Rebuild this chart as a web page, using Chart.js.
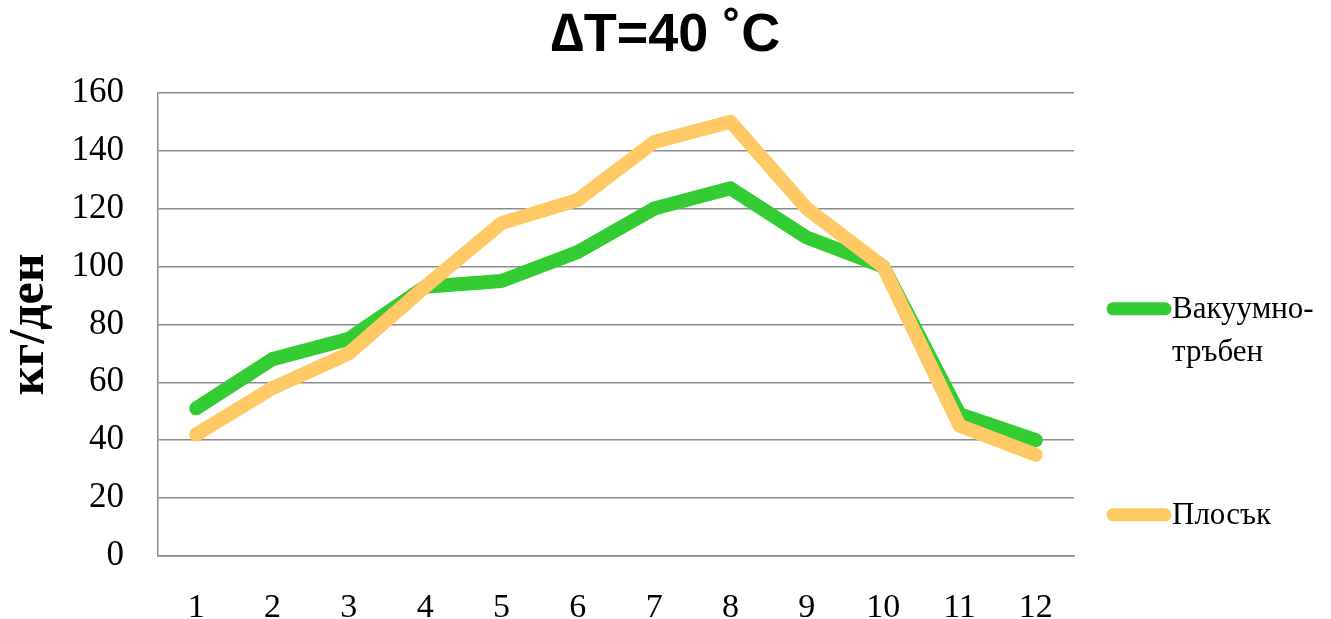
<!DOCTYPE html>
<html>
<head>
<meta charset="utf-8">
<script src="https://cdn.jsdelivr.net/npm/chart.js@4/dist/chart.umd.min.js"></script>
<style>
  html, body { margin: 0; padding: 0; background: #fff; }
  #wrap { width: 1331px; height: 619px; position: relative; }
</style>
</head>
<body>
<div id="wrap"><canvas id="c"></canvas></div>
<script>
const chartTitle = '∆T=40 ˚C';
const yAxisTitle = 'кг/ден';
const months = ['1','2','3','4','5','6','7','8','9','10','11','12'];
const vacuumTube = [51, 68, 75, 93, 95, 105, 120, 127, 110, 100, 49, 40];
const flatPlate  = [42, 58, 70, 93, 115, 123, 143, 150, 120, 100, 45, 35];
const seriesLabelLines = [['Вакуумно-', 'тръбен'], ['Плосък']];
const seriesColors = ['#33CC33', '#FFC965'];

const serifFont = "'Liberation Serif', 'DejaVu Serif', serif";

// custom right-side legend box placed through Chart.js layout system
const legendBoxPlugin = {
  id: 'rightLegendBox',
  beforeInit(chart) {
    const box = {
      position: 'right',
      weight: 0,
      fullSize: false,
      options: {},
      isHorizontal() { return false; },
      update(maxW, maxH) { this.width = 257; this.height = maxH; },
      draw() {
        const ctx = chart.ctx;
        const area = chart.chartArea;
        const rowsY = [area.top + 216, area.top + 422];
        ctx.save();
        chart.data.datasets.forEach((ds, i) => {
          const lines = ds.labelLines;
          const y = rowsY[i];
          ctx.strokeStyle = ds.borderColor;
          ctx.lineWidth = 13;
          ctx.lineCap = 'round';
          ctx.beginPath();
          ctx.moveTo(this.left + 39, y);
          ctx.lineTo(this.left + 91, y);
          ctx.stroke();
          ctx.fillStyle = '#000';
          ctx.font = '31px ' + serifFont;
          ctx.textBaseline = 'alphabetic';
          ctx.textAlign = 'left';
          lines.forEach((t, k) => {
            ctx.fillText(t, this.left + 98, y + 9 + k * 43);
          });
        });
        ctx.restore();
      }
    };
    Chart.layouts.addBox(chart, box);
  }
};

new Chart(document.getElementById('c'), {
  type: 'line',
  data: {
    labels: months,
    datasets: [
      {
        label: seriesLabelLines[0].join(''),
        labelLines: seriesLabelLines[0],
        data: vacuumTube,
        borderColor: seriesColors[0],
        backgroundColor: seriesColors[0],
        order: 1
      },
      {
        label: seriesLabelLines[1].join(''),
        labelLines: seriesLabelLines[1],
        data: flatPlate,
        borderColor: seriesColors[1],
        backgroundColor: seriesColors[1],
        order: 0
      }
    ]
  },
  plugins: [legendBoxPlugin],
  options: {
    responsive: true,
    maintainAspectRatio: false,
    animation: false,
    layout: { padding: 0 },
    elements: {
      line: { borderWidth: 14, borderCapStyle: 'round', borderJoinStyle: 'round', tension: 0 },
      point: { radius: 0, hoverRadius: 0 }
    },
    plugins: {
      legend: { display: false },
      tooltip: { enabled: false },
      title: {
        display: true,
        text: chartTitle,
        color: '#000',
        font: { family: "'Liberation Sans', Arial, sans-serif", size: 54, weight: 'bold', lineHeight: 1.2 },
        padding: { top: 4, bottom: 24 }
      }
    },
    scales: {
      x: {
        offset: true,
        grid: { display: false, drawTicks: false },
        border: { display: true, color: '#8c8c8c', width: 1.5 },
        ticks: { color: '#000', font: { family: serifFont, size: 34 }, padding: 32, maxRotation: 0, autoSkip: false },
        afterFit(scale) { scale.height = 63; }
      },
      y: {
        min: 0,
        max: 160,
        ticks: { stepSize: 20, color: '#000', font: { family: serifFont, size: 35 }, padding: 34 },
        grid: { color: '#8c8c8c', lineWidth: 1.5, drawTicks: false },
        border: { display: true, color: '#8c8c8c', width: 1.5 },
        title: {
          display: true,
          text: yAxisTitle,
          color: '#000',
          font: { family: serifFont, size: 50, weight: 'bold', lineHeight: 1.2 },
          padding: { top: 0, bottom: 0 }
        },
        afterFit(scale) { scale.width = 158; }
      }
    }
  }
});
</script>
</body>
</html>
